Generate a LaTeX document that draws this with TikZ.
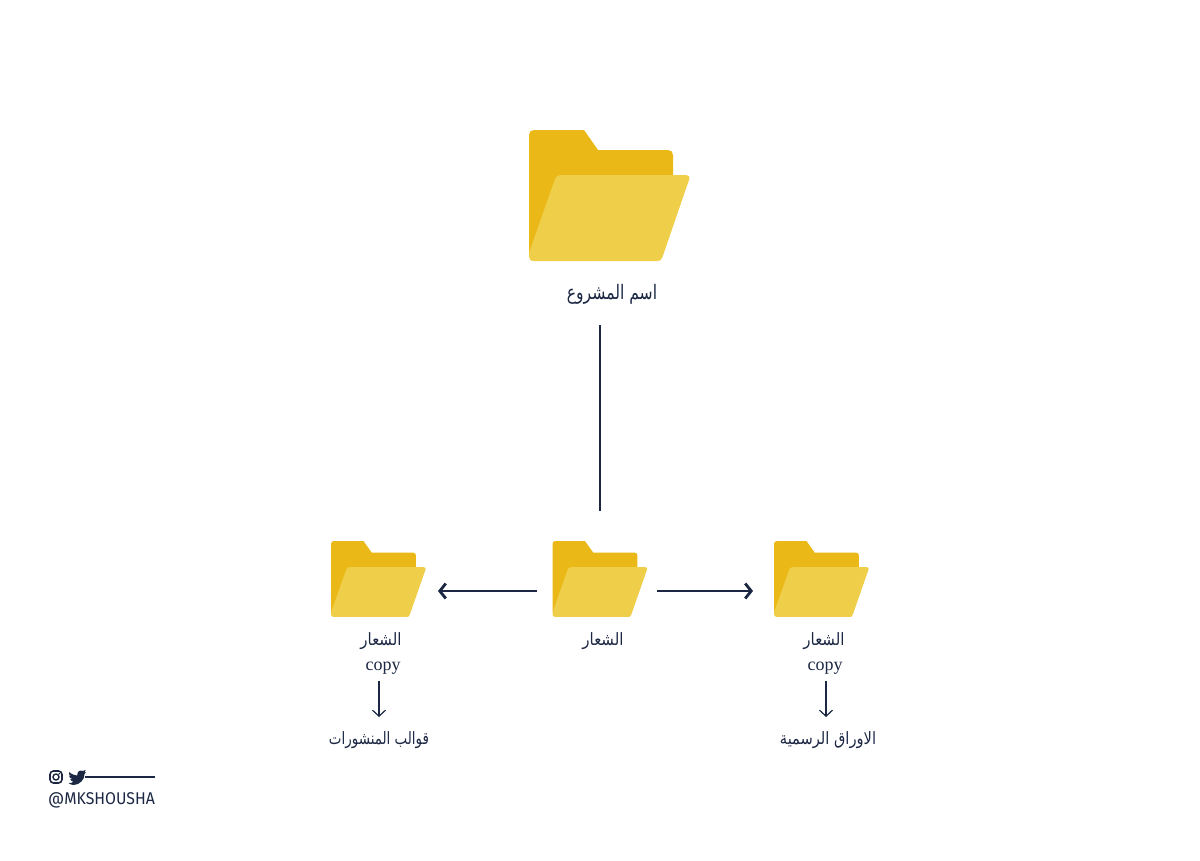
\documentclass[tikz,border=0pt]{standalone}
\usepackage{fontspec}
\usepackage{graphicx}
\setmainfont{Liberation Serif}
\newfontfamily\arabicfont[Script=Arabic]{DejaVu Sans}
\newfontfamily\latinsans{Fira Sans}
\TeXXeTstate=1
\definecolor{navy}{HTML}{1B2743}
\definecolor{folderback}{HTML}{EBB917}
\definecolor{folderfront}{HTML}{EFCE4A}
\usetikzlibrary{arrows.meta}
\newcommand{\folderat}[4]{%
 \begin{scope}[shift={(#1,#2)},xscale=#3,yscale=#4]
  \fill[folderback] (0,122) -- (0,5) .. controls (0,2) and (2,0) .. (5,0) -- (55,0) -- (69,20) -- (139,20) .. controls (142,20) and (144,22) .. (144,25) -- (144,70) -- (100,125) -- (5,125) -- cycle;
  \fill[folderfront] (33,45) -- (157,45) .. controls (160,45) and (161,47) .. (160.3,49) -- (133.5,127) .. controls (132.5,130) and (131,131) .. (128,131) -- (5,131) .. controls (1,131) and (0,129) .. (0,126) -- (0,123) -- (26,49) .. controls (27,46.5) and (29,45) .. (33,45) -- cycle;
 \end{scope}}
\tikzset{
 arlabel/.style={text=navy,inner sep=0pt},
 bigarrow/.style={draw=navy,line width=2.8pt,-{Straight Barb[length=6pt,width=15pt,line width=2.8pt]}},
 thinarrow/.style={draw=navy,line width=1.2pt,-{Straight Barb[length=6pt,width=13pt,line width=1.2pt]}},
 folderbox/.style={inner sep=0pt,minimum width=95pt,minimum height=76pt},
}
\newcommand{\labeltext}[3]{\scalebox{#1}[1]{\arabicfont\fontsize{#2}{#2}\selectfont #3}}
\begin{document}
\begin{tikzpicture}[x=1pt,y=-1pt]
\useasboundingbox (0,0) rectangle (1200,860);
\folderat{529}{130}{1}{1}
\folderat{331}{541}{0.59}{0.58}
\folderat{552.5}{541}{0.59}{0.58}
\folderat{774}{541}{0.59}{0.58}
\node[folderbox] (leftfolder) at (378.5,579) {};
\node[folderbox] (midfolder) at (600,579) {};
\node[folderbox] (rightfolder) at (821.5,579) {};
\node[arlabel] (title) at (612,294.5) {\labeltext{0.78}{20}{\beginR اسم المشروع\endR}};
\node[arlabel] (midlabel) at (603,641.5) {\labeltext{0.88}{17}{\beginR الشعار\endR}};
\node[arlabel] (leftlabel) at (381,641.5) {\labeltext{0.88}{17}{\beginR الشعار\endR}};
\node[arlabel] (rightlabel) at (824,641.5) {\labeltext{0.88}{17}{\beginR الشعار\endR}};
\node[text=navy,font=\fontsize{18}{20}\selectfont,inner sep=0pt] (leftcopy) at (383,668) {copy};
\node[text=navy,font=\fontsize{18}{20}\selectfont,inner sep=0pt] (rightcopy) at (825,668) {copy};
\node[arlabel] (lefttarget) at (379,740.5) {\labeltext{0.79}{17}{\beginR قوالب المنشورات\endR}};
\node[arlabel] (righttarget) at (828,740.5) {\labeltext{0.86}{17}{\beginR الاوراق الرسمية\endR}};
\coordinate (vtop) at (600,325);
\coordinate (vbot) at (600,511);
\coordinate (ml) at (536.5,591);
\coordinate (ll) at (438,591);
\coordinate (mr) at (657,591);
\coordinate (rr) at (753,591);
\coordinate (lt) at (379,681);
\coordinate (lb) at (379,717);
\coordinate (rt) at (826,681);
\coordinate (rb) at (826,717);
\draw[navy,line width=2.8pt] (vtop) -- (vbot);
\draw[bigarrow] (ml) -- (ll);
\draw[bigarrow] (mr) -- (rr);
\draw[thinarrow] (lt) -- (lb);
\draw[thinarrow] (rt) -- (rb);
% social
\draw[navy,line width=1.6pt,rounded corners=3.5pt] (50,771) rectangle (62,783);
\draw[navy,line width=1.4pt] (56,777) circle (3pt);
\fill[navy] (59.4,773.6) circle (0.8pt);
\fill[navy] (69,772) .. controls (72,774.5) and (75,775.5) .. (77.2,775.5)
 .. controls (77,771.5) and (80,769.5) .. (82.5,771) .. controls (83.5,771) and (85,770.5) .. (85.7,770)
 .. controls (85.5,771) and (85,772) .. (84.5,772.5) .. controls (85,772.5) and (85.5,772.2) .. (86,772)
 .. controls (85.7,773) and (85,773.7) .. (84.5,774.2) .. controls (84.8,779) and (80,785) .. (73.5,785)
 .. controls (71.8,785) and (70,784.2) .. (68.5,783) .. controls (71,783.2) and (72.5,782.5) .. (73.5,781.7)
 .. controls (72,781.5) and (70.5,780.5) .. (70.2,779) .. controls (71.2,779.2) and (72,779.2) .. (72.3,779)
 .. controls (70.2,778.5) and (69,777) .. (69,775.5) .. controls (70,775.9) and (70.7,776.2) .. (71.3,776.2)
 .. controls (69.5,775) and (68.3,773.8) .. (69,772) -- cycle;
\coordinate (rulestart) at (85,777);
\coordinate (ruleend) at (155,777);
\draw[navy,line width=1.2pt] (rulestart) -- (ruleend);
\node[anchor=west,text=navy,inner sep=0pt] (handle) at (48,800) {\scalebox{0.93}[1]{\latinsans\fontsize{17}{20}\selectfont @MKSHOUSHA}};
\end{tikzpicture}
\end{document}
